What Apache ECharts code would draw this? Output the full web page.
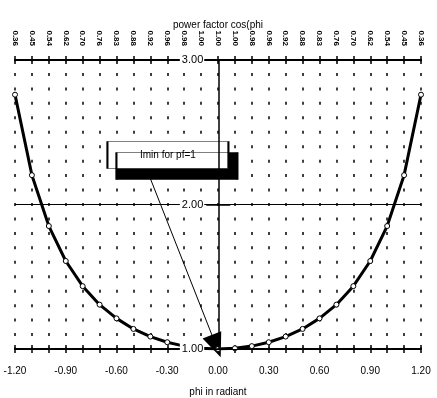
<!DOCTYPE html>
<html><head><meta charset="utf-8">
<script src="https://cdn.jsdelivr.net/npm/echarts@6/dist/echarts.min.js"></script>
<style>html,body{margin:0;padding:0;background:#fff}#c{width:437px;height:398px}</style>
</head><body><div id="c"></div>
<script>
const phi = [-1.2,-1.1,-1.0,-0.9,-0.8,-0.7,-0.6,-0.5,-0.4,-0.3,-0.2,-0.1,0.0,0.1,0.2,0.3,0.4,0.5,0.6,0.7,0.8,0.9,1.0,1.1,1.2];
const current = [2.760,2.203,1.851,1.609,1.435,1.307,1.212,1.139,1.086,1.047,1.020,1.005,1.000,1.005,1.020,1.047,1.086,1.139,1.212,1.307,1.435,1.609,1.851,2.203,2.760];
const bottomTickLabels = ['-1.20','-0.90','-0.60','-0.30','0.00','0.30','0.60','0.90','1.20'];
const topTickLabels = ['0.36','0.45','0.54','0.62','0.70','0.76','0.83','0.88','0.92','0.96','0.98','1.00','1.00','1.00','0.98','0.96','0.92','0.88','0.83','0.76','0.70','0.62','0.54','0.45','0.36'];
const yTickLabels = ['1.00','2.00','3.00'];
const annotationText = 'Imin for pf=1';
const topTitle = 'power factor cos(phi';
const bottomTitle = 'phi in radiant';

const FONT = '"Liberation Sans", Arial, sans-serif';
const chart = echarts.init(document.getElementById('c'), null, {renderer: 'canvas'});
const dotV = {color: '#000', width: 1.5, type: [3, 11.45], dashOffset: 1.5};
const tickStyle = {color: '#000', width: 1.5};
const Y_OFFSET = -203.25;

function overlayX(pos) {
  return {
    type: 'value', position: pos, min: -1.2, max: 1.2, interval: 0.1,
    axisLine: {show: false, onZero: false},
    axisTick: {show: true, inside: true, length: 4, lineStyle: tickStyle},
    axisLabel: {show: false}, splitLine: {show: false}
  };
}

chart.setOption({
  animation: false,
  backgroundColor: '#fff',
  grid: {left: 15, right: 16, top: 60, bottom: 49, containLabel: false, outerBoundsMode: 'none'},
  xAxis: [
    {
      type: 'value', position: 'bottom', min: -1.2, max: 1.2, interval: 0.3,
      name: bottomTitle, nameLocation: 'middle', nameGap: 38, nameMoveOverlap: false,
      nameTextStyle: {fontFamily: FONT, fontSize: 10, color: '#000'},
      axisLine: {onZero: false, lineStyle: {color: '#000', width: 2}},
      axisTick: {show: true, length: 4, lineStyle: tickStyle},
      minorTick: {show: true, splitNumber: 3, length: 4, lineStyle: tickStyle},
      axisLabel: {fontFamily: FONT, fontSize: 10, color: '#000', margin: 17,
        formatter: (v) => bottomTickLabels[Math.round((v + 1.2) / 0.3)]},
      splitLine: {show: true, lineStyle: dotV},
      minorSplitLine: {show: true, lineStyle: dotV}
    },
    {
      type: 'value', position: 'top', min: -1.2, max: 1.2, interval: 0.1,
      name: topTitle, nameLocation: 'middle', nameGap: 30, nameMoveOverlap: false,
      nameTextStyle: {fontFamily: FONT, fontSize: 10, color: '#000'},
      axisLine: {onZero: false, lineStyle: {color: '#000', width: 2}},
      axisTick: {show: true, length: 4, lineStyle: tickStyle},
      axisLabel: {fontFamily: FONT, fontSize: 8, fontWeight: 'bold', color: '#000', rotate: 90, margin: 14,
        formatter: (v) => topTickLabels[Math.round((v + 1.2) * 10)]},
      splitLine: {show: false}
    },
    overlayX('bottom'),
    overlayX('top')
  ],
  yAxis: [
    {
      type: 'value', position: 'left', offset: Y_OFFSET, min: 1, max: 3, interval: 1, z: 20,
      axisLine: {show: true, onZero: false, lineStyle: {color: '#000', width: 1.5}},
      axisTick: {show: true, length: 12, lineStyle: tickStyle},
      axisLabel: {show: true, fontFamily: FONT, fontSize: 11, color: '#000', margin: 14,
        backgroundColor: '#fff', padding: [1, 1, 1, 2],
        formatter: (v) => yTickLabels[Math.round(v - 1)]},
      splitLine: {show: true, lineStyle: {color: '#000', width: 1}}
    },
    {
      type: 'value', position: 'left', offset: Y_OFFSET, min: 1, max: 3, interval: 1, z: 20,
      axisLine: {show: false, onZero: false},
      axisTick: {show: true, inside: true, length: 12, lineStyle: tickStyle},
      axisLabel: {show: false},
      splitLine: {show: false}
    }
  ],
  series: [{
    type: 'line',
    xAxisIndex: 0, yAxisIndex: 0,
    data: phi.map((p, i) => [p, current[i]]),
    lineStyle: {color: '#000', width: 3},
    symbol: 'circle', symbolSize: 5,
    itemStyle: {color: '#fff', borderColor: '#000', borderWidth: 1},
    z: 5,
    markLine: {
      silent: true, symbol: ['none', 'triangle'], symbolSize: [20, 24],
      label: {show: false},
      lineStyle: {color: '#000', width: 1, type: 'solid'},
      data: [[{coord: [-0.40, 2.18]}, {coord: [-0.01, 1.02]}]]
    },
    markPoint: {
      silent: true,
      symbol: 'rect', symbolSize: [121, 27],
      itemStyle: {color: '#fff', borderColor: '#000', borderWidth: 1,
        shadowColor: '#000', shadowOffsetX: 9, shadowOffsetY: 11, shadowBlur: 0},
      label: {show: true, position: 'inside', color: '#000', fontFamily: FONT, fontSize: 10},
      data: [{coord: [-0.296, 2.343], value: annotationText}]
    }
  }]
});
</script>
</body></html>
